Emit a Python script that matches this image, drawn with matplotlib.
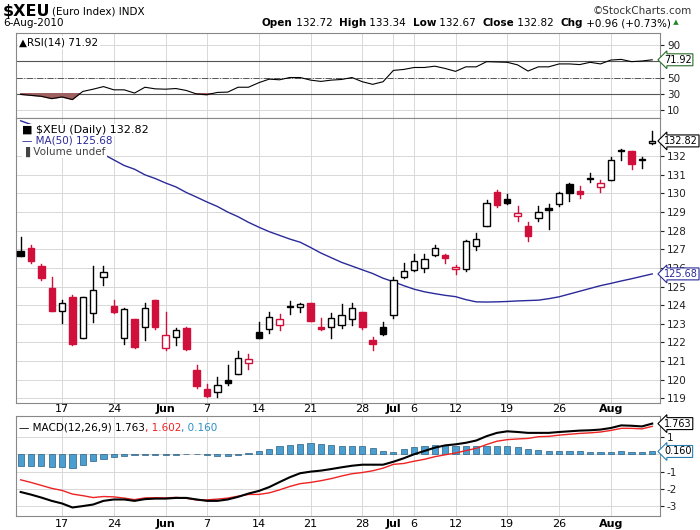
import matplotlib
matplotlib.use('Agg')
import matplotlib.pyplot as plt
from matplotlib.patches import Rectangle
import numpy as np

# ── Data ─────────────────────────────────────────────────────────────────────
opens = [126.93, 127.05, 126.12, 124.93, 123.67, 124.46, 122.22, 123.60, 125.53, 123.96,
         122.22, 123.26, 122.81, 124.27, 121.71, 122.29, 122.76, 120.54, 119.52, 119.36,
         119.97, 120.33, 120.92, 122.56, 122.70, 122.92, 123.93, 123.91, 124.12, 122.81,
         122.85, 122.94, 123.24, 123.64, 122.13, 122.81, 123.46, 125.51, 125.87, 126.01,
         126.71, 126.71, 125.92, 125.92, 127.18, 128.26, 130.06, 129.72, 128.78, 128.26,
         128.69, 129.23, 129.45, 130.49, 130.11, 130.78, 130.36, 130.72, 132.30, 132.27,
         131.77, 132.72]
highs = [127.65, 127.25, 126.21, 125.49, 124.28, 124.54, 124.45, 126.12, 126.12, 124.28,
         123.83, 123.26, 124.14, 124.27, 123.64, 122.79, 122.83, 120.81, 119.79, 120.13,
         120.78, 121.53, 121.39, 123.10, 123.64, 123.53, 124.21, 124.12, 124.12, 123.29,
         123.58, 124.05, 124.12, 123.64, 122.29, 123.10, 125.49, 126.28, 126.75, 126.75,
         127.25, 126.77, 126.15, 127.52, 127.90, 129.63, 130.17, 129.95, 129.34, 128.46,
         129.34, 129.41, 130.09, 130.54, 130.38, 131.10, 130.74, 131.93, 132.41, 132.27,
         131.93, 133.34]
lows = [126.66, 126.24, 125.33, 123.71, 123.03, 121.86, 122.22, 123.12, 125.06, 123.60,
        121.93, 121.71, 122.14, 122.74, 121.60, 121.89, 121.60, 119.55, 119.07, 119.09,
        119.70, 120.33, 120.58, 122.25, 122.52, 122.67, 123.55, 123.65, 123.17, 122.65,
        122.22, 122.79, 122.94, 122.74, 121.60, 122.38, 123.33, 125.45, 125.83, 125.76,
        126.66, 126.24, 125.70, 125.81, 126.95, 128.26, 129.27, 129.45, 128.51, 127.43,
        128.51, 128.08, 129.32, 129.59, 129.75, 130.63, 130.08, 130.72, 131.82, 131.30,
        131.39, 132.67]
closes = [126.66, 126.35, 125.44, 123.71, 124.10, 121.93, 124.45, 124.81, 125.76, 123.64,
          123.78, 121.77, 123.83, 122.85, 122.40, 122.67, 121.64, 119.64, 119.10, 119.73,
          119.84, 121.19, 121.10, 122.25, 123.35, 123.24, 123.97, 124.05, 123.17, 122.74,
          123.29, 123.46, 123.83, 122.85, 121.93, 122.47, 125.35, 125.83, 126.37, 126.48,
          127.07, 126.53, 126.06, 127.47, 127.56, 129.50, 129.37, 129.50, 128.96, 127.70,
          129.01, 129.12, 130.00, 130.04, 129.97, 130.83, 130.58, 131.82, 132.33, 131.59,
          131.87, 132.82]
ma50 = [133.9, 133.7, 133.5, 133.3, 133.1, 132.9, 132.7, 132.4, 132.1, 131.8,
        131.5, 131.3, 131.0, 130.8, 130.56, 130.35, 130.05, 129.8, 129.54, 129.3,
        129.0, 128.75, 128.45, 128.19, 127.95, 127.75, 127.55, 127.38, 127.1, 126.8,
        126.55, 126.3, 126.1, 125.9, 125.7, 125.45, 125.26, 125.05, 124.86, 124.72,
        124.62, 124.53, 124.46, 124.3, 124.18, 124.17, 124.18, 124.2, 124.23, 124.25,
        124.27, 124.35, 124.45, 124.6, 124.75, 124.9, 125.05, 125.17, 125.3, 125.42,
        125.55, 125.68]
rsi = [29.2, 28.0, 26.8, 24.0, 26.0, 22.8, 32.8, 35.6, 38.8, 34.8,
       34.8, 30.8, 38.0, 36.0, 35.6, 36.4, 34.0, 29.6, 28.8, 31.6,
       32.0, 38.0, 38.0, 43.6, 48.0, 47.2, 50.0, 50.0, 46.8, 45.2,
       46.8, 47.6, 50.0, 44.8, 41.6, 44.8, 58.8, 60.0, 62.4, 62.4,
       64.0, 61.2, 57.6, 63.2, 63.2, 69.6, 69.2, 68.8, 65.6, 58.0,
       63.2, 63.2, 66.8, 66.8, 66.0, 68.8, 66.8, 71.6, 72.4, 69.6,
       70.4, 71.92]
macd = [-2.17, -2.32, -2.49, -2.68, -2.83, -3.06, -2.98, -2.89, -2.68, -2.60,
        -2.60, -2.68, -2.58, -2.55, -2.55, -2.51, -2.51, -2.60, -2.68, -2.68,
        -2.60, -2.45, -2.26, -2.11, -1.89, -1.60, -1.32, -1.09, -1.00, -0.94,
        -0.85, -0.75, -0.66, -0.60, -0.60, -0.60, -0.43, -0.23, 0.00, 0.19,
        0.38, 0.51, 0.57, 0.66, 0.79, 1.04, 1.23, 1.32, 1.28, 1.23,
        1.23, 1.23, 1.28, 1.32, 1.36, 1.38, 1.42, 1.51, 1.66, 1.64,
        1.60, 1.763]
hist = [-0.70, -0.70, -0.70, -0.72, -0.75, -0.77, -0.60, -0.40, -0.25, -0.15,
        -0.08, -0.07, -0.07, -0.05, -0.04, -0.03, 0.02, 0.03, -0.06, -0.10,
        -0.08, -0.04, 0.05, 0.20, 0.33, 0.45, 0.53, 0.60, 0.62, 0.58,
        0.55, 0.50, 0.46, 0.45, 0.35, 0.20, 0.15, 0.30, 0.40, 0.48,
        0.52, 0.54, 0.50, 0.45, 0.45, 0.48, 0.48, 0.48, 0.40, 0.32,
        0.22, 0.20, 0.18, 0.17, 0.16, 0.15, 0.14, 0.14, 0.17, 0.15,
        0.14, 0.16]
tick_idx = [4, 9, 14, 18, 23, 28, 33, 36, 38, 42, 47, 52, 57]
tick_lbl = ['17', '24', 'Jun', '7', '14', '21', '28', 'Jul', '6', '12', '19', '26', 'Aug']

# ── Style ────────────────────────────────────────────────────────────────────
RED = '#d0103a'
GRID = '#d8d8d8'
plt.rcParams.update({'font.family': 'DejaVu Sans', 'font.size': 7.5})

n = len(closes)
x = np.arange(n)
signal = [m - h for m, h in zip(macd, hist)]

fig = plt.figure(figsize=(7, 5.3), dpi=100)
L, W = 16 / 700, (660 - 16) / 700
ax_r = fig.add_axes([L, 1 - 118 / 530, W, 85 / 530])
ax_p = fig.add_axes([L, 1 - 403 / 530, W, 285 / 530])
ax_m = fig.add_axes([L, 1 - 516 / 530, W, 100 / 530])


def setup(ax, yticks):
    ax.set_xlim(-0.45, n - 0.25)
    for s in ax.spines.values():
        s.set_color('#888888')
        s.set_linewidth(0.8)
    ax.yaxis.tick_right()
    ax.set_yticks(yticks)
    ax.tick_params(axis='y', length=3, pad=2, colors='#222222', labelsize=7.5)
    ax.set_xticks(tick_idx)
    ax.tick_params(axis='x', length=0)
    for t in tick_idx:
        ax.axvline(t, color=GRID, lw=0.7, zorder=0)
    for yv in yticks:
        ax.axhline(yv, color=GRID, lw=0.7, zorder=0)


def tag(ax, yv, text, ec, color='black'):
    ax.annotate(text, xy=(1.0, yv), xycoords=('axes fraction', 'data'),
                xytext=(3, 0), textcoords='offset points', va='center', ha='left',
                fontsize=7, color=color,
                bbox=dict(boxstyle='larrow,pad=0.1', fc='white', ec=ec, lw=0.8),
                annotation_clip=False, zorder=10)


# ── RSI panel ────────────────────────────────────────────────────────────────
setup(ax_r, [10, 30, 50, 70, 90])
ax_r.set_ylim(0, 105)
ax_r.set_xticklabels([])
ax_r.axhline(70, color='#555555', lw=0.8)
ax_r.axhline(30, color='#555555', lw=0.8)
ax_r.axhline(50, color='#555555', lw=0.7, ls='-.')
ax_r.plot(x, rsi, color='black', lw=0.8, zorder=3)
r = np.array(rsi)
ax_r.fill_between(x, r, 30, where=r < 30, interpolate=True, color='#9e6060', zorder=2)
ax_r.set_yticklabels(['10', '30', '50', '', '90'])
tag(ax_r, rsi[-1], '71.92', '#2a6e2a')
ax_r.text(0.005, 0.95, '\u25b2RSI(14) 71.92', transform=ax_r.transAxes, va='top',
          fontsize=7.5, bbox=dict(fc='white', ec='none', pad=1))

# ── Price panel ──────────────────────────────────────────────────────────────
setup(ax_p, list(range(119, 133)))
ax_p.set_ylim(118.75, 134.05)
ax_p.set_xticklabels(tick_lbl)
ax_p.tick_params(axis='x', pad=1, labelsize=8)
for lb in ax_p.get_xticklabels():
    if not lb.get_text().isdigit():
        lb.set_fontweight('bold')
ax_p.plot(x, ma50, color='#2a2a9a', lw=1.0, zorder=2)
bw = 0.62
for i in range(n):
    o, h, l, c = opens[i], highs[i], lows[i], closes[i]
    up_day = i == 0 or c >= closes[i - 1]
    col = 'black' if up_day else RED
    ax_p.plot([i, i], [l, h], color=col, lw=1.0, zorder=3)
    lo, hi = min(o, c), max(o, c)
    fill = 'white' if c > o else col
    ax_p.add_patch(Rectangle((i - bw / 2, lo), bw, max(hi - lo, 0.03),
                             fc=fill, ec=col, lw=1.0, zorder=4))
tag(ax_p, closes[-1], '132.82', 'black')
tag(ax_p, ma50[-1], '125.68', '#2a2a9a', color='#2a2a9a')
leg = ('\u25a0 $XEU (Daily) 132.82', '\u2014 MA(50) 125.68', '\u2590 Volume undef')
lc = ('black', '#2a2a9a', '#444444')
for k, (t, c) in enumerate(zip(leg, lc)):
    ax_p.text(0.01, 0.975 - k * 0.038, t, transform=ax_p.transAxes, va='top',
              fontsize=8 if k == 0 else 7.5, color=c,
              bbox=dict(fc='white', ec='none', pad=0.6), zorder=9)

# ── MACD panel ───────────────────────────────────────────────────────────────
setup(ax_m, [-3, -2, -1, 0, 1])
ax_m.set_ylim(-3.55, 2.2)
ax_m.set_xticklabels(tick_lbl)
ax_m.tick_params(axis='x', pad=2, labelsize=8)
for lb in ax_m.get_xticklabels():
    if not lb.get_text().isdigit():
        lb.set_fontweight('bold')
ax_m.set_yticklabels(['-3', '-2', '-1', '', '1'])
ax_m.bar(x, hist, width=0.6, color='#4a9fd0', edgecolor='#2c5f80', lw=0.5, zorder=2)
ax_m.plot(x, signal, color='#ee2222', lw=1.0, zorder=3)
ax_m.plot(x, macd, color='black', lw=1.5, zorder=4)
tag(ax_m, macd[-1], '1.763', 'black')
tag(ax_m, hist[-1], '0.160', '#2a7fb0')
t1 = ax_m.text(0.005, 0.93, '\u2014 MACD(12,26,9) 1.763', transform=ax_m.transAxes,
               va='top', fontsize=7.5)
t2 = ax_m.annotate(', 1.602', xycoords=t1, xy=(1, 0), va='bottom', fontsize=7.5,
                   color='#ee2222')
ax_m.annotate(', 0.160', xycoords=t2, xy=(1, 0), va='bottom', fontsize=7.5,
              color='#2a8fc8')

# ── Header ───────────────────────────────────────────────────────────────────
fig.text(3 / 700, 1 - 4 / 530, '$XEU', fontsize=11.5, fontweight='bold', va='top')
fig.text(52 / 700, 1 - 7 / 530, '(Euro Index) INDX', fontsize=7.5, va='top')
fig.text(3 / 700, 1 - 18 / 530, '6-Aug-2010', fontsize=7.5, va='top')
fig.text(692 / 700, 1 - 6 / 530, '\u00a9StockCharts.com', fontsize=7.5, va='top',
         ha='right', color='#333333')
parts = [('Open', True), (' 132.72  ', False), ('High', True), (' 133.34  ', False),
         ('Low', True), (' 132.67  ', False), ('Close', True), (' 132.82  ', False),
         ('Chg', True), (' +0.96 (+0.73%)', False)]
prev = None
for s, b in parts:
    kw = dict(fontsize=7.5, va='top', fontweight='bold' if b else 'normal')
    if prev is None:
        prev = fig.text(262 / 700, 1 - 18 / 530, s, **kw)
    else:
        prev = fig.add_artist(plt.Annotation(s, xy=(1, 1), xycoords=prev, **kw))
fig.add_artist(plt.Annotation(' \u25b2', xy=(1, 0.9), xycoords=prev, va='top',
                              fontsize=5, color='#228822'))

fig.savefig('out.png', dpi=100, facecolor='white')
